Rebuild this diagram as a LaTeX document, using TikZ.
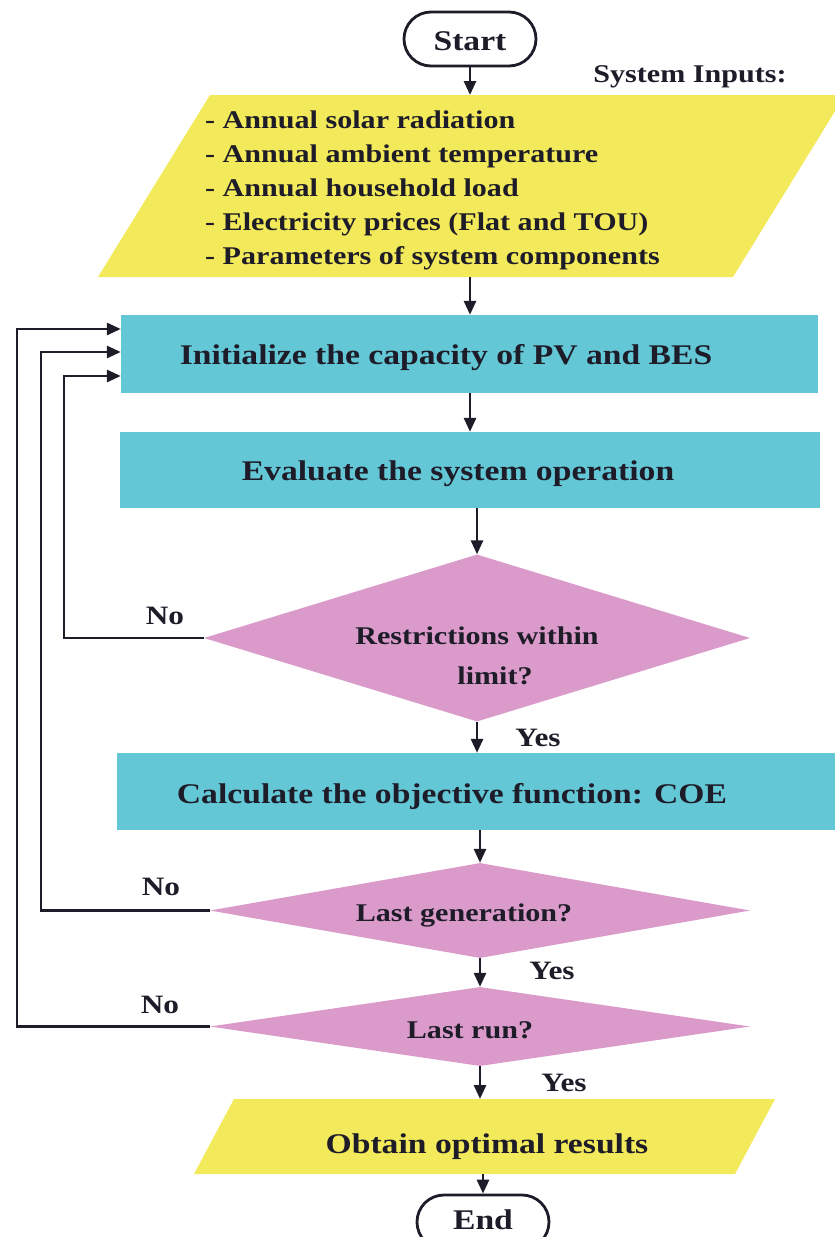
\documentclass[tikz,border=0pt]{standalone}
\usepackage{fontspec}
\setmainfont{Liberation Serif}[FakeStretch=1.18]
\usetikzlibrary{shapes.geometric,shapes.misc,arrows.meta}
\definecolor{yel}{RGB}{242,234,90}
\definecolor{cya}{RGB}{99,199,214}
\definecolor{pnk}{RGB}{218,155,203}
\definecolor{ink}{RGB}{30,28,40}
\begin{document}
\begin{tikzpicture}[x=1pt,y=-1pt,
  arr/.style={line width=2.8pt, draw=ink, -{Triangle[length=14pt,width=12pt]}},
  term/.style={rounded rectangle, draw=ink, line width=2.8pt, fill=white, minimum width=132pt, minimum height=54pt, inner sep=0pt},
  cbox/.style={rectangle, fill=cya, inner sep=0pt},
  dia/.style={diamond, fill=pnk, inner sep=0pt},
  bigt/.style={font=\fontsize{28.5}{32}\selectfont\bfseries, text=ink, inner sep=0pt, anchor=base},
  smallt/.style={font=\fontsize{25.5}{30}\selectfont\bfseries, text=ink, inner sep=0pt, anchor=base},
  listt/.style={font=\fontsize{25.5}{30}\selectfont\bfseries, text=ink, inner sep=0pt, anchor=base west},
  labt/.style={font=\fontsize{26.5}{30}\selectfont\bfseries, text=ink, inner sep=0pt, anchor=base}]
\useasboundingbox (0,0) rectangle (835,1237);
\clip (0,0) rectangle (835,1237);
\fill[white] (0,0) rectangle (835,1237);

% terminals
\node[term] (start) at (470,39) {};
\node[bigt] (startT) at (470,50) {Start};

% system inputs
\node[smallt] (sysin) at (690,82) {System Inputs:};
\fill[yel] (210,95) -- (845,95) -- (733,277) -- (98,277) -- cycle;
\coordinate (inpT) at (470,95);
\coordinate (inpB) at (470,277);
\node[listt] (l1) at (205,128) {- Annual solar radiation};
\node[listt] (l2) at (205,162) {- Annual ambient temperature};
\node[listt] (l3) at (205,196) {- Annual household load};
\node[listt] (l4) at (205,230) {- Electricity prices (Flat and TOU)};
\node[listt] (l5) at (205,264) {- Parameters of system components};

% process boxes
\node[cbox, minimum width=697pt, minimum height=78pt] (init) at (469.5,354) {};
\node[bigt] (initT) at (446,364) {Initialize the capacity of PV and BES};
\node[cbox, minimum width=700pt, minimum height=76pt] (eval) at (470,470) {};
\node[bigt] (evalT) at (458,480) {Evaluate the system operation};

% decision 1
\node[dia, minimum width=546pt, minimum height=167pt] (d1) at (477,638) {};
\node[smallt] (d1a) at (477,644) {Restrictions within};
\node[smallt] (d1b) at (495,684) {limit?};
\node[labt] (no1) at (165,624) {No};
\node[labt] (yes1) at (538,746) {Yes};

% COE box
\node[cbox, minimum width=733pt, minimum height=77pt] (calc) at (483.5,791.5) {};
\node[bigt] (calcT) at (452,803) {Calculate the objective function: COE};

% decision 2
\node[dia, minimum width=540pt, minimum height=95pt] (d2) at (480,910.5) {};
\node[smallt] (d2T) at (464,921) {Last generation?};
\node[labt] (no2) at (161,895) {No};
\node[labt] (yes2) at (552,979) {Yes};

% decision 3
\node[dia, minimum width=540pt, minimum height=79pt] (d3) at (480,1026.5) {};
\node[smallt] (d3T) at (470,1038) {Last run?};
\node[labt] (no3) at (160,1013) {No};
\node[labt] (yes3) at (564,1091) {Yes};

% output
\fill[yel] (234,1099) -- (775,1099) -- (735,1174) -- (194,1174) -- cycle;
\coordinate (outT) at (480,1099);
\coordinate (outB) at (483,1174);
\node[bigt] (outTxt) at (487,1153) {Obtain optimal results};

\node[term] (end) at (483,1222) {};
\node[bigt] (endT) at (483,1229) {End};

% connectors
\draw[arr] (start) -- (inpT);
\draw[arr] (inpB) -- (inpB |- init.north);
\draw[arr] (inpB |- init.south) -- (inpB |- eval.north);
\draw[arr] (d1.north |- eval.south) -- (d1.north);
\draw[arr] (d1.south) -- (d1.south |- calc.north);
\draw[arr] (d2.north |- calc.south) -- (d2.north);
\draw[arr] (d2.south) -- (d3.north);
\draw[arr] (d3.south) -- (outT);
\draw[arr] (outB) -- (end.north);

% loops
\coordinate (k1) at (64,376);
\coordinate (k2) at (41,352);
\coordinate (k3) at (17,329);
\draw[arr] (d1.west) -| (k1) -- (k1 -| init.west);
\draw[arr] (d2.west) -| (k2) -- (k2 -| init.west);
\draw[arr] (d3.west) -| (k3) -- (k3 -| init.west);
\end{tikzpicture}
\end{document}
